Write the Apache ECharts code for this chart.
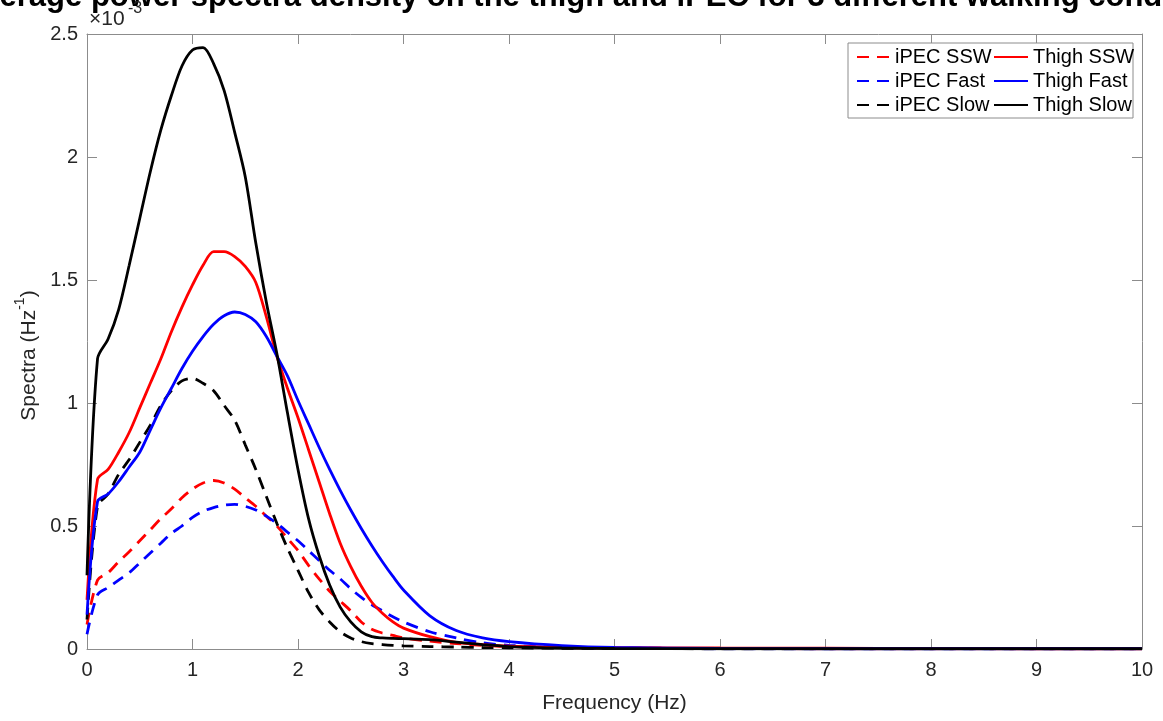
<!DOCTYPE html>
<html>
<head>
<meta charset="utf-8">
<script src="https://cdn.jsdelivr.net/npm/echarts@6/dist/echarts.min.js"></script>
<style>
html,body{margin:0;padding:0;background:#fff;}
#chart{width:1163px;height:721px;}
</style>
</head>
<body>
<div id="chart"></div>
<script>
// Frequency samples (Hz)
var freq = [0,0.1,0.2,0.3,0.4,0.5,0.6,0.7,0.8,0.9,1.0,1.1,1.2,1.3,1.4,1.5,1.6,1.7,1.8,1.9,2.0,2.1,2.2,2.3,2.4,2.5,2.6,2.7,2.8,2.9,3.0,3.25,3.5,3.75,4,4.5,5,6,7,8,9,10];

// Spectra values in units of 1e-3 Hz^-1
var ipecSSW  = [0.10,0.28,0.31,0.355,0.395,0.44,0.485,0.53,0.57,0.615,0.65,0.675,0.685,0.675,0.65,0.615,0.58,0.54,0.50,0.45,0.40,0.34,0.285,0.235,0.195,0.155,0.11,0.08,0.065,0.055,0.045,0.032,0.022,0.015,0.010,0.006,0.004,0.002,0.001,0.001,0.001,0.001];
var ipecFast = [0.06,0.22,0.25,0.28,0.31,0.35,0.39,0.43,0.47,0.50,0.535,0.56,0.575,0.585,0.588,0.58,0.565,0.54,0.51,0.475,0.44,0.40,0.36,0.32,0.285,0.245,0.21,0.18,0.155,0.131,0.11,0.07,0.045,0.025,0.015,0.006,0.003,0.001,0.001,0.001,0.001,0.001];
var ipecSlow = [0.12,0.58,0.63,0.71,0.77,0.84,0.91,0.99,1.05,1.09,1.10,1.08,1.05,0.99,0.93,0.83,0.73,0.62,0.51,0.41,0.32,0.23,0.16,0.11,0.07,0.045,0.03,0.022,0.018,0.015,0.013,0.010,0.008,0.006,0.005,0.003,0.002,0.001,0.001,0.001,0.001,0.001];
var thighSSW  = [0.20,0.69,0.73,0.80,0.88,0.98,1.08,1.18,1.29,1.39,1.48,1.56,1.615,1.615,1.595,1.555,1.49,1.35,1.19,1.06,0.94,0.81,0.68,0.55,0.43,0.335,0.255,0.19,0.145,0.11,0.085,0.05,0.027,0.018,0.012,0.008,0.006,0.004,0.003,0.002,0.001,0.001];
var thighFast = [0.14,0.60,0.63,0.68,0.74,0.80,0.89,0.98,1.06,1.14,1.21,1.27,1.32,1.355,1.37,1.36,1.33,1.27,1.19,1.11,1.01,0.915,0.82,0.73,0.645,0.565,0.49,0.42,0.355,0.295,0.24,0.135,0.075,0.045,0.03,0.014,0.006,0.002,0.001,0.001,0.001,0.001];
var thighSlow = [0.30,1.18,1.26,1.38,1.56,1.75,1.94,2.11,2.25,2.37,2.435,2.445,2.38,2.27,2.10,1.92,1.65,1.41,1.20,0.96,0.73,0.53,0.38,0.26,0.17,0.11,0.07,0.05,0.045,0.043,0.042,0.038,0.028,0.018,0.010,0.004,0.002,0.001,0.001,0.001,0.001,0.001];

var seriesNames = ['iPEC SSW','iPEC Fast','iPEC Slow','Thigh SSW','Thigh Fast','Thigh Slow'];
var seriesColors = ['#ff0000','#0000ff','#000000','#ff0000','#0000ff','#000000'];
var seriesDashed = [true,true,true,false,false,false];
var seriesValues = [ipecSSW, ipecFast, ipecSlow, thighSSW, thighFast, thighSlow];

var xTicks = [0,1,2,3,4,5,6,7,8,9,10];
var yTicks = [0,0.5,1,1.5,2,2.5];

var FONT = '"Liberation Sans", Arial, Helvetica, sans-serif';
var AX = '#8c8c8c';
var TXT = '#262626';

function zip(xs, ys){ return xs.map(function(x,i){ return [x, ys[i]]; }); }

var series = seriesNames.map(function(n,i){
  return {
    name: n, type: 'line', xAxisIndex: 0, yAxisIndex: 0,
    data: zip(freq, seriesValues[i]),
    showSymbol: false, symbol: 'none', smooth: 0.3,
    lineStyle: { color: seriesColors[i], width: 2.8, type: seriesDashed[i] ? [12,8] : 'solid' },
    itemStyle: { color: seriesColors[i] },
    emphasis: { disabled: true },
    z: 2
  };
});

var chart = echarts.init(document.getElementById('chart'), null, {renderer:'canvas'});

function xAxisDef(pos, showLabel, withName){
  var a = {
    type: 'value', position: pos, min: xTicks[0], max: xTicks[xTicks.length-1], interval: 1,
    axisLine: { show: true, onZero: false, lineStyle: { color: AX, width: 1 } },
    axisTick: { show: true, inside: true, length: 10, lineStyle: { color: AX } },
    splitLine: { show: false },
    axisLabel: { show: showLabel, fontSize: 20, color: TXT, fontFamily: FONT, margin: 11 }
  };
  if (withName) {
    a.name = 'Frequency (Hz)';
    a.nameLocation = 'middle';
    a.nameGap = 44;
    a.nameTextStyle = { fontSize: 21, color: TXT, fontFamily: FONT };
  }
  return a;
}
function yAxisDef(pos, showLabel, withName){
  var a = {
    type: 'value', position: pos, min: yTicks[0], max: yTicks[yTicks.length-1], interval: 0.5,
    axisLine: { show: true, onZero: false, lineStyle: { color: AX, width: 1 } },
    axisTick: { show: true, inside: true, length: 10, lineStyle: { color: AX } },
    splitLine: { show: false },
    axisLabel: { show: showLabel, fontSize: 20, color: TXT, fontFamily: FONT, margin: 9 }
  };
  if (withName) {
    a.name = '{a|Spectra (Hz}{b|-1}{a|)}';
    a.nameLocation = 'middle';
    a.nameGap = 43;
    a.nameTextStyle = {
      color: TXT, fontFamily: FONT, padding: [0, 28, 0, 0],
      rich: {
        a: { fontSize: 21, color: TXT, fontFamily: FONT, lineHeight: 26, verticalAlign: 'bottom' },
        b: { fontSize: 14, color: TXT, fontFamily: FONT, lineHeight: 14, verticalAlign: 'top' }
      }
    };
  }
  return a;
}

var legendCommon = {
  orient: 'vertical', itemWidth: 33, itemHeight: 14, itemGap: 4,
  itemStyle: { opacity: 0 },
  textStyle: { fontSize: 20, color: '#000', fontFamily: FONT, lineHeight: 20 },
  selectedMode: false, padding: 0, z: 5
};

var option = {
  animation: false,
  backgroundColor: '#ffffff',
  grid: { left: 87, right: 21, top: 34, bottom: 72, containLabel: false },
  xAxis: [ xAxisDef('bottom', true, true), xAxisDef('top', false, false) ],
  yAxis: [ yAxisDef('left', true, true), yAxisDef('right', false, false) ],
  legend: [
    Object.assign({}, legendCommon, { data: seriesNames.slice(0,3), left: 856, top: 47 }),
    Object.assign({}, legendCommon, { data: seriesNames.slice(3,6), left: 993, top: 47, itemWidth: 34 })
  ],
  graphic: [
    { type: 'rect', z: 3, shape: { x: 848, y: 43, width: 285, height: 75 },
      style: { fill: '#ffffff', stroke: AX, lineWidth: 1 } },
    { type: 'text', z: 5, x: 603, y: -3,
      style: { text: 'Average power spectra density on the thigh and iPEC for 3 different walking conditions',
               fontSize: 31, fontWeight: 'bold', fontFamily: FONT, fill: '#000', align: 'center', verticalAlign: 'middle' } },
    { type: 'text', z: 6, x: 89, y: 9,
      style: { text: '\u00d710', fontSize: 21, fontFamily: FONT, fill: TXT, align: 'left', verticalAlign: 'top' } },
    { type: 'text', z: 6, x: 128, y: 1,
      style: { text: '-3', fontSize: 16, fontFamily: FONT, fill: TXT, align: 'left', verticalAlign: 'top' } }
  ],
  series: series
};
chart.setOption(option);
</script>
</body>
</html>
